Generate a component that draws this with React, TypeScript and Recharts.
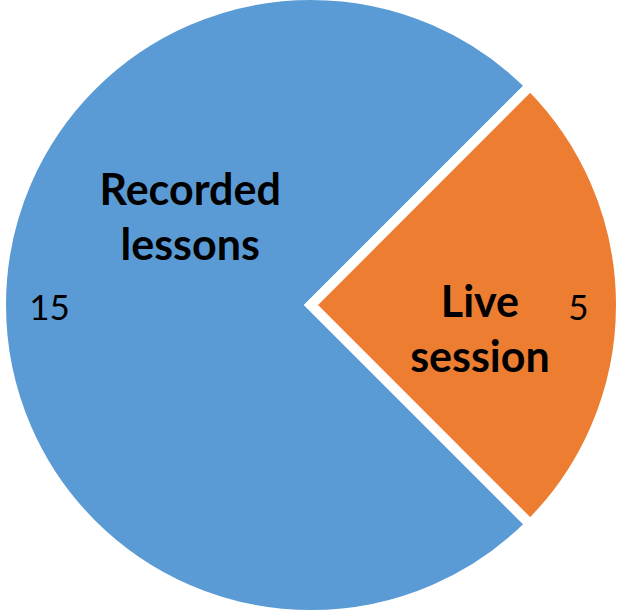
import { PieChart, Pie, Cell } from 'recharts'

const categories = ['Recorded lessons', 'Live session']
const values = [15, 5]
const colors = ['#5B9BD5', '#ED7D31']

const data = categories.map((name, i) => ({ name, value: values[i] }))

const RADIAN = Math.PI / 180
const FONT = 'Lato, Carlito, Calibri, sans-serif'

// name label placement (polar, relative to outer radius) picked to match the original
const namePos: Record<string, { r: number; a: number; lines: string[] }> = {
  'Recorded lessons': { r: 0.48, a: 144.3, lines: ['Recorded', 'lessons'] },
  'Live session': { r: 0.551, a: -8.4, lines: ['Live', 'session'] },
}

const renderLabel = (props: any) => {
  const { cx, cy, midAngle, outerRadius, name, value } = props
  const vr = outerRadius * 0.853
  const vx = cx + 3 + vr * Math.cos(-midAngle * RADIAN)
  const vy = cy + vr * Math.sin(-midAngle * RADIAN)
  const p = namePos[name]
  const nx = cx + outerRadius * p.r * Math.cos(-p.a * RADIAN)
  const ny = cy + outerRadius * p.r * Math.sin(-p.a * RADIAN)
  return (
    <g>
      <text x={vx} y={vy + 15} fill="#000" fontSize={35} fontFamily={FONT} textAnchor="middle">
        {value}
      </text>
      <text fill="#000" fontSize={43} fontWeight="bold" fontFamily={FONT} textAnchor="middle">
        <tspan x={nx} y={ny - 13}>{p.lines[0]}</tspan>
        <tspan x={nx} y={ny + 42}>{p.lines[1]}</tspan>
      </text>
    </g>
  )
}

export default function App() {
  return (
    <div style={{ position: 'absolute', left: 0, top: 0 }}>
      <PieChart width={621} height={610} margin={{ top: 0, right: 0, bottom: 0, left: 0 }}>
        <Pie
          data={[{ value: 1 }]}
          dataKey="value"
          cx={311}
          cy={305}
          outerRadius={311}
          fill="#fff"
          stroke="#cfcfcf"
          strokeWidth={1}
          isAnimationActive={false}
        />
        <Pie
          data={data}
          dataKey="value"
          nameKey="name"
          cx={311}
          cy={305}
          outerRadius={310}
          startAngle={-45}
          endAngle={-405}
          stroke="#fff"
          strokeWidth={10}
          strokeLinejoin="miter"
          label={renderLabel}
          labelLine={false}
          isAnimationActive={false}
        >
          {data.map((d, i) => (
            <Cell key={d.name} fill={colors[i]} />
          ))}
        </Pie>
      </PieChart>
    </div>
  )
}
